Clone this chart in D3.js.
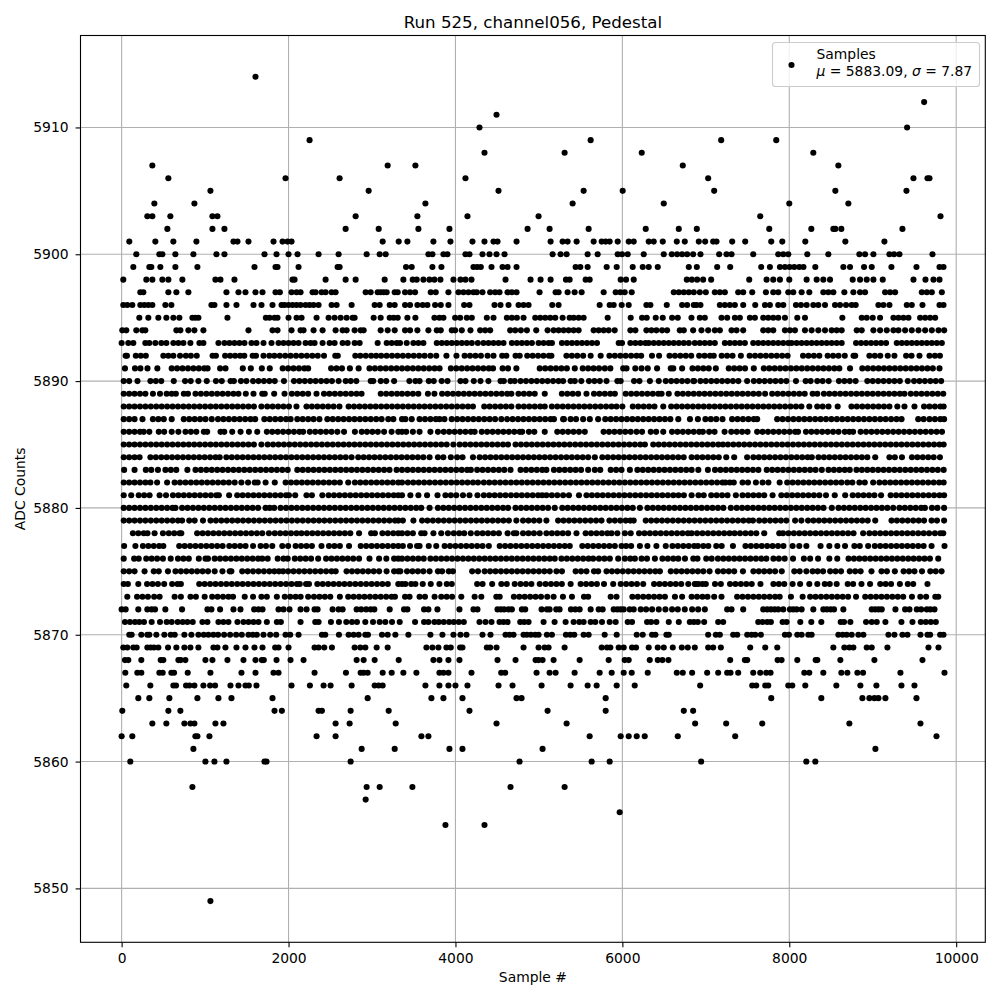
<!DOCTYPE html>
<html><head><meta charset="utf-8"><script src="https://cdn.jsdelivr.net/npm/d3@7"></script>
<style>html,body{margin:0;padding:0;background:#fff}svg{display:block}text{font-family:"DejaVu Sans",sans-serif;fill:#000}</style></head><body><div id="c"></div>
<script>
const titleText="Run 525, channel056, Pedestal", xLabel="Sample #", yLabel="ADC Counts";
const xTicks=[0,2000,4000,6000,8000,10000], yTicks=[5850,5860,5870,5880,5890,5900,5910];
const r5914=[1604],r5912=[9616],r5911=[4492],r5910=[4288,9412],r5909=[2252,5620,7184,7844],r5908=[4348,5308,6232,8288];
const r5907=[368,3188,3520,6724,8588],r5906=[560,1964,2612,4120,7028,9488,9656,9680],r5905=[1064,2960,4516,5536,6004,7100,8552,9404];
const r5904=[392,872,3640,5404,6496,8000,8708],r5903=[308,368,584,1088,1148,2804,3544,4144,4996,7652,9812];
const r5902=[548,1088,1232,2684,3080,3556,3928,4864,5128,5596,6280,6676,6892,7760,8264,8528,8552,8624,9356];
const r5901=[92,404,620,896,1340,1388,1520,1820,1928,1988,2036,3128,3320,3424,3736,3940,4204,4348,4456,4504,4732,5140,5284,5344,5452,5656,5752,5800,5848,5944,6076,6136,6316,6376,6484,6652,6748,6916,6992,7088,7128,7316,7472,7784,7916,8192,8672,9140];
const r5900=[176,452,488,644,860,1136,1232,1712,1856,2000,2108,2360,2600,2936,3092,3164,3676,3724,3856,3904,4120,4168,4324,4408,4492,4588,5164,5260,5332,5584,5704,5944,5996,6064,6256,6496,6592,6656,6716,6776,6848,6936,7160,7248,7308,7568,7868,7928,7988,8216,8468,8840,8908,9008,9200,9256,9320,9716];
const r5899=[140,332,356,464,644,908,1592,1844,1868,2120,2588,2612,3408,3476,3724,3832,4216,4260,4304,4432,4564,4624,4732,5440,5496,5584,5812,5932,6124,6244,6316,6424,6796,6892,7136,7292,7664,7768,7888,7948,8004,8060,8120,8170,8312,8648,8728,8896,8988,9224,9524,9800,9848];
const r5898=[20,296,368,488,560,728,1124,1184,1352,2048,2072,2444,2684,2804,3152,3376,3488,3536,3616,3688,3748,3820,3976,4060,4120,4192,4600,4900,5020,5140,5324,5368,5560,5608,5980,6044,6136,6772,6832,6896,6968,7064,7520,7728,7808,7888,8000,8208,8328,8408,8488,8760,8848,8928,9008,9120,9488,9632,9728,9800];
const r5897=[224,260,560,656,800,1256,1400,1484,1604,1688,1844,1896,2036,2096,2144,2288,2324,2396,2444,2516,2564,2924,2984,3068,3104,3140,3176,3272,3308,3396,3456,3516,3704,3764,3916,4036,4096,4156,4216,4256,4324,4416,4476,4528,4624,4676,4732,5008,5200,5236,5344,5428,5512,5776,5920,5976,6028,6112,6616,6676,6736,6796,6856,6928,7000,7108,7168,7228,7388,7448,7556,7720,7808,7868,7988,8048,8148,8240,8408,8468,8528,8660,8768,8848,8908,9148,9208,9268,9588,9648,9708,9828];
const r5896=[20,68,128,224,272,320,368,524,596,1076,1112,1256,1376,1580,1676,1808,1916,1952,2000,2048,2096,2144,2204,2252,2300,2360,2516,2576,2756,3032,3092,3212,3272,3396,3456,3544,3608,3664,3756,3824,3916,4104,4168,4468,4540,4636,4756,4816,4876,5160,5236,5728,5848,5896,5992,6076,6288,6336,6532,6716,6776,6856,6888,6936,7168,7228,7288,7348,7448,7592,7708,7768,7868,7928,8080,8140,8208,8288,8348,8428,8548,8608,8680,8748,8796,9068,9128,9200,9408,9468,9596,9800,9848];
const r5895=[212,320,440,536,620,692,848,884,920,1268,1728,1772,1832,1868,2000,2096,2156,2336,2480,2552,2624,2696,2768,2792,3020,3104,3212,3260,3308,3424,3520,3748,3808,3856,3996,4056,4136,4196,4376,4456,4616,4676,4736,4816,4956,5016,5076,5136,5196,5284,5368,5416,5476,5536,5824,6100,6236,6292,6400,6484,6596,6664,6828,6928,6988,7188,7256,7348,7408,7528,7588,7688,7748,7808,7868,7948,8096,8188,8636,8868,8928,9000,9088,9248,9308,9368,9428,9568,9628,9688,9748];
const r5894=[8,56,176,248,284,656,704,800,872,980,1520,1808,1868,2036,2144,2180,2300,2408,2564,2648,2696,2792,2864,2900,3104,3188,3272,3396,3456,3544,3676,3776,3824,3956,3996,4076,4180,4296,4356,4416,4656,4716,4784,4856,4968,5104,5176,5236,5296,5356,5416,5476,5656,5716,5776,5836,5908,6096,6156,6288,6348,6408,6476,6536,6688,6736,6848,6948,7028,7108,7168,7308,7368,7448,7688,7748,7808,7948,8008,8068,8188,8268,8348,8428,8508,8568,8628,8808,8868,9008,9088,9168,9248,9308,9388,9468,9548,9628,9708,9788,9856];
const r5893=[0,80,140,284,332,404,476,536,620,680,740,824,932,980,1160,1232,1292,1352,1412,1472,1556,1616,1700,1796,1880,1940,2000,2060,2120,2204,2264,2312,2408,2492,2552,2648,2708,2792,2852,3068,3176,3236,3296,3336,3416,3496,3556,3616,3776,3836,3896,3956,4016,4076,4136,4196,4268,4336,4396,4456,4516,4576,4676,4736,4796,4856,4916,4996,5056,5116,5156,5276,5336,5396,5456,5516,5576,5636,5696,5956,5996,6096,6156,6216,6276,6316,6376,6436,6496,6556,6616,6676,6736,6796,6868,6928,6988,7048,7108,7228,7288,7348,7408,7468,7568,7628,7688,7748,7808,7868,7928,7988,8028,8088,8148,8208,8268,8328,8388,8448,8508,8568,8628,8800,8860,8920,8980,9040,9100,9160,9288,9348,9408,9468,9528,9588,9648,9708,9768,9828];
const r5892=[48,64,170,230,290,500,560,620,700,770,830,900,1090,1130,1240,1300,1360,1420,1470,1570,1610,1700,1770,1830,1895,1960,2025,2090,2155,2220,2285,2350,2425,2560,2590,2800,2860,2925,2990,3050,3110,3175,3240,3305,3370,3435,3500,3565,3630,3700,3770,3892,4012,4110,4175,4240,4305,4385,4456,4560,4610,4720,4770,4860,4925,4990,5055,5120,5150,5330,5395,5460,5530,5620,5740,5845,5910,5975,6040,6105,6170,6225,6355,6440,6565,6630,6695,6760,6825,6920,6985,7050,7095,7190,7255,7320,7420,7525,7590,7655,7720,7785,7850,7915,7980,8165,8230,8295,8360,8460,8525,8590,8665,8770,8790,8960,9025,9090,9180,9260,9400,9465,9560,9680,9745,9805];
const r5891=[40,160,225,310,428,600,665,730,795,860,925,990,1030,1180,1245,1452,1548,1680,1775,1930,1995,2060,2125,2190,2235,2510,2575,2640,2735,2840,2970,3035,3100,3165,3230,3295,3360,3425,3490,3555,3620,3685,3750,3810,3945,4010,4075,4140,4205,4270,4335,4400,4450,4565,4630,4730,5010,5075,5140,5205,5270,5335,5430,5525,5590,5655,5720,5790,5856,6010,6050,6155,6230,6304,6416,6580,6610,6716,6840,6905,6970,7035,7120,7275,7340,7405,7470,7575,7695,7760,7825,7890,7955,8020,8085,8150,8215,8280,8345,8410,8475,8540,8600,8728,8875,8940,9005,9070,9135,9200,9265,9330,9395,9460,9525,9590,9655,9720,9800];
const r5890=[25,90,190,345,410,475,625,760,828,920,1020,1130,1200,1305,1345,1430,1495,1575,1640,1705,1770,1835,1945,2065,2130,2195,2260,2325,2390,2455,2520,2600,2685,2745,2812,2985,3015,3105,3170,3265,3448,3520,3570,3680,3740,3835,3905,4060,4120,4220,4300,4395,4540,4580,4660,4710,4780,4845,4910,4975,5040,5105,5170,5235,5290,5380,5430,5508,5600,5665,5730,5810,5940,5980,6140,6205,6330,6436,6520,6585,6650,6715,6780,6850,6860,6935,7000,7065,7130,7195,7260,7325,7390,7495,7575,7640,7705,7770,7835,7900,7965,8080,8196,8256,8335,8400,8472,8595,8660,8725,8795,8935,9000,9065,9130,9195,9260,9325,9420,9495,9560,9625,9690,9755,9820];
const r5889=[25,90,155,220,285,375,460,540,600,650,745,795,885,950,1015,1080,1145,1210,1275,1340,1400,1488,1580,1685,1715,1828,1952,2040,2105,2170,2235,2335,2425,2490,2555,2620,2685,2750,2815,2875,3105,3170,3235,3300,3360,3425,3490,3555,3670,3748,3840,3905,3970,4035,4100,4165,4230,4295,4360,4425,4490,4555,4620,4670,4755,4820,4885,4950,5070,5275,5340,5405,5470,5570,5660,5725,5790,5855,5910,6040,6105,6170,6235,6300,6365,6430,6470,6556,6660,6725,6790,6855,6920,6985,7050,7115,7180,7245,7310,7375,7440,7505,7570,7635,7710,7795,7860,7925,7990,8055,8120,8185,8280,8336,8415,8480,8545,8610,8675,8740,8805,8870,8935,9000,9065,9130,9195,9260,9325,9380,9455,9520,9585,9650,9715,9780,9845];
const r5888=[25,90,155,220,285,350,415,480,545,610,675,740,805,870,935,1000,1065,1130,1195,1260,1325,1390,1455,1520,1585,1675,1745,1810,1875,1940,2005,2095,2215,2280,2345,2410,2475,2540,2610,2720,2785,2850,2915,2980,3045,3110,3175,3240,3305,3370,3435,3500,3565,3630,3695,3760,3825,3890,3955,4020,4085,4150,4210,4345,4410,4475,4540,4605,4670,4755,4820,4885,4950,5015,5070,5155,5220,5285,5350,5415,5480,5545,5610,5675,5740,5805,5870,5930,6000,6125,6190,6255,6320,6385,6490,6585,6650,6715,6780,6845,6910,6975,7040,7105,7170,7235,7300,7365,7430,7495,7560,7625,7690,7755,7820,7885,7950,8015,8080,8145,8240,8335,8400,8470,8580,8745,8810,8875,8940,9005,9070,9135,9200,9295,9380,9500,9615,9680,9745,9810,9850];
const r5887=[25,90,155,250,375,440,505,600,745,810,875,940,1005,1080,1155,1220,1285,1350,1415,1480,1545,1600,1710,1775,1840,1905,1970,2025,2105,2170,2235,2300,2370,2465,2530,2595,2660,2725,2790,2855,2920,2985,3050,3115,3195,3256,3360,3400,3476,3570,3635,3700,3765,3810,3868,3955,4020,4085,4150,4215,4280,4345,4410,4475,4550,4620,4685,4750,4815,4880,4945,5010,5075,5140,5180,5290,5300,5380,5445,5530,5610,5710,5795,5860,5925,5990,6055,6120,6185,6250,6315,6380,6445,6510,6575,6670,6810,6905,6995,7060,7125,7200,7315,7380,7445,7510,7575,7615,7855,7920,7985,8050,8115,8180,8245,8310,8375,8440,8505,8570,8635,8700,8765,8830,8895,8960,9025,9090,9155,9220,9285,9345,9545,9610,9680,9745,9810,9855];
const r5886=[25,90,155,220,265,332,445,510,600,680,765,830,895,985,1025,1185,1230,1325,1425,1525,1625,1740,1805,1870,1935,2000,2065,2130,2175,2255,2320,2385,2450,2515,2585,2665,2795,2877,2940,3005,3070,3145,3235,3315,3360,3410,3490,3570,3700,3790,3860,3925,3990,4055,4120,4185,4230,4315,4380,4445,4510,4575,4640,4705,4770,4800,4880,4945,5070,5220,5285,5350,5415,5480,5550,5775,5840,5905,5970,6035,6100,6170,6236,6340,6405,6490,6595,6660,6725,6790,6855,6920,6965,7040,7105,7225,7305,7370,7435,7500,7615,7680,7745,7810,7875,7940,8005,8070,8105,8200,8265,8330,8395,8460,8525,8590,8665,8720,8765,8855,8920,8985,9050,9115,9180,9245,9310,9375,9440,9505,9570,9635,9700,9765,9830];
const r5885=[25,90,155,220,285,350,415,480,545,610,675,740,805,870,935,1000,1065,1130,1195,1260,1325,1390,1455,1520,1585,1675,1750,1815,1880,1945,2010,2075,2140,2205,2270,2335,2400,2465,2530,2595,2660,2725,2790,2855,2920,2985,3050,3115,3180,3245,3310,3375,3440,3505,3570,3635,3700,3765,3830,3895,3975,4050,4115,4180,4245,4310,4375,4440,4505,4570,4630,4720,4785,4850,4915,4980,5045,5110,5175,5240,5305,5370,5435,5500,5565,5630,5695,5760,5825,5890,5955,6020,6085,6150,6215,6270,6370,6435,6500,6565,6630,6695,6760,6825,6890,6955,7020,7085,7150,7205,7265,7330,7395,7460,7525,7590,7655,7720,7785,7850,7915,7980,8045,8110,8175,8240,8305,8370,8435,8500,8565,8630,8695,8760,8825,8890,8955,9020,9085,9150,9215,9280,9345,9410,9475,9540,9605,9670,9735,9800,9850];
const r5884=[25,90,155,215,345,410,475,540,605,670,735,800,865,930,995,1060,1125,1175,1255,1320,1385,1450,1515,1580,1645,1710,1775,1840,1905,1970,2035,2100,2165,2230,2295,2360,2425,2490,2555,2620,2685,2755,2835,2900,2965,3030,3095,3160,3225,3290,3355,3420,3485,3550,3615,3690,3790,3855,3945,4020,4085,4210,4290,4355,4420,4485,4550,4615,4680,4745,4810,4875,4940,5005,5070,5135,5200,5265,5330,5395,5460,5525,5590,5670,5760,5825,5890,5955,6020,6085,6150,6215,6280,6345,6410,6475,6540,6605,6670,6735,6830,6895,6960,7025,7090,7155,7245,7340,7495,7570,7635,7700,7765,7830,7895,7960,8025,8090,8155,8220,8270,8350,8415,8480,8545,8610,8675,8740,8805,8870,8935,9030,9200,9265,9350,9470,9535,9600,9665,9730,9805];
const r5883=[30,155,290,355,435,525,590,655,788,885,950,1015,1080,1145,1210,1275,1340,1405,1470,1535,1600,1665,1730,1795,1860,1925,1990,2105,2170,2235,2300,2365,2430,2495,2560,2625,2690,2755,2820,2885,2950,3015,3080,3145,3210,3295,3360,3425,3490,3555,3620,3685,3750,3815,3880,3945,4010,4075,4140,4185,4260,4325,4390,4455,4520,4585,4660,4780,4845,4910,4975,5040,5090,5180,5245,5310,5375,5440,5505,5590,5670,5735,5860,5925,5990,6090,6180,6245,6310,6375,6440,6505,6570,6635,6700,6765,6830,6910,7025,7110,7175,7240,7305,7370,7435,7500,7565,7630,7730,7795,7860,7925,7990,8055,8120,8185,8250,8315,8390,8470,8535,8600,8665,8725,8805,8870,8935,9000,9065,9130,9195,9260,9325,9390,9455,9520,9585,9650,9715,9780,9850];
const r5882=[25,90,155,220,285,345,425,545,635,700,765,830,895,960,1025,1090,1155,1220,1285,1355,1435,1515,1595,1630,1725,1835,1965,2030,2095,2160,2225,2290,2355,2420,2485,2550,2615,2715,2795,2860,2925,2990,3055,3120,3185,3250,3315,3360,3430,3495,3560,3625,3690,3755,3820,3885,3950,4015,4080,4145,4210,4270,4340,4405,4470,4535,4600,4665,4730,4795,4860,4925,4990,5055,5120,5185,5250,5315,5380,5445,5510,5575,5640,5705,5770,5835,5900,5965,6030,6095,6160,6225,6290,6355,6420,6485,6550,6615,6680,6745,6810,6875,6940,7005,7070,7135,7200,7234,7288,7335,7440,7505,7600,7680,7750,7885,7975,8040,8105,8170,8235,8300,8365,8430,8495,8560,8625,8695,8756,8840,8905,9005,9080,9145,9210,9275,9340,9405,9470,9535,9600,9665,9730,9795,9850];
const r5881=[25,115,205,270,335,455,532,615,680,745,810,875,940,1005,1070,1135,1165,1288,1385,1450,1515,1580,1645,1710,1775,1840,1905,1970,2005,2080,2215,2280,2405,2480,2545,2610,2675,2740,2805,2870,2935,3000,3065,3130,3195,3260,3315,3360,3460,3556,3660,3785,3880,3945,4010,4090,4168,4264,4340,4405,4470,4535,4600,4665,4730,4795,4860,4925,4990,5040,5090,5155,5220,5290,5360,5480,5570,5635,5700,5765,5830,5895,5960,6025,6090,6155,6220,6285,6350,6415,6480,6545,6610,6672,6737,6830,6912,6975,7065,7130,7195,7260,7360,7440,7505,7570,7635,7700,7800,7905,7970,8035,8100,8165,8230,8295,8360,8440,8545,8670,8760,8825,8890,8955,9020,9100,9215,9280,9345,9410,9475,9540,9605,9670,9735,9800,9855];
const r5880=[25,90,155,220,285,350,415,480,545,610,645,725,790,855,920,985,1050,1115,1180,1245,1310,1375,1440,1505,1570,1635,1725,1775,1828,1905,1970,2035,2100,2165,2230,2295,2360,2425,2490,2555,2620,2685,2750,2815,2880,2945,3010,3075,3140,3205,3270,3335,3400,3465,3530,3590,3690,3790,3855,3920,3985,4050,4115,4180,4245,4310,4375,4440,4505,4570,4630,4720,4785,4850,4915,4980,5045,5110,5190,5280,5345,5410,5475,5540,5605,5670,5735,5800,5865,5930,5995,6060,6125,6210,6300,6365,6430,6495,6560,6625,6690,6755,6820,6885,6950,7015,7080,7145,7210,7300,7370,7435,7500,7565,7630,7695,7760,7825,7890,7955,8020,8085,8150,8215,8280,8345,8410,8510,8590,8655,8720,8785,8850,8915,8980,9045,9110,9175,9245,9320,9385,9450,9515,9580,9625,9710,9775,9855];
const r5879=[25,90,155,220,285,350,415,480,545,610,675,725,810,875,975,1065,1130,1195,1260,1325,1390,1455,1520,1585,1650,1715,1780,1845,1910,1975,2040,2105,2170,2235,2300,2365,2430,2495,2560,2625,2690,2755,2820,2885,2950,3015,3080,3145,3210,3275,3315,3370,3496,3600,3665,3730,3795,3860,3925,3990,4055,4120,4185,4250,4315,4380,4445,4510,4575,4640,4730,4810,4875,4940,5005,5090,5230,5295,5360,5425,5490,5555,5620,5685,5750,5845,5910,5975,6040,6095,6136,6280,6345,6410,6475,6540,6605,6670,6735,6800,6865,6930,6995,7060,7125,7190,7255,7320,7385,7450,7515,7565,7640,7705,7770,7835,7900,7965,8070,8145,8225,8290,8355,8420,8485,8550,8615,8680,8745,8810,8875,8940,9030,9225,9290,9355,9420,9485,9550,9615,9705,9770,9855];
const r5878=[135,200,265,310,395,495,565,630,695,715,905,970,1035,1100,1165,1230,1295,1360,1425,1490,1555,1620,1685,1765,1835,1900,1965,2030,2095,2155,2220,2285,2350,2415,2480,2545,2610,2675,2740,2845,2990,3035,3125,3190,3255,3315,3360,3425,3490,3590,3630,3736,3830,3910,3980,4045,4105,4184,4260,4325,4390,4455,4520,4625,4700,4730,4810,4875,4940,5010,5090,5155,5220,5285,5350,5450,5560,5625,5690,5755,5820,5870,5940,6030,6100,6200,6265,6330,6395,6460,6525,6590,6655,6720,6785,6830,6895,6960,7025,7090,7155,7220,7285,7345,7410,7475,7540,7605,7700,7880,7925,7990,8055,8120,8185,8250,8315,8380,8445,8510,8575,8640,8705,8770,8885,8960,9025,9090,9155,9220,9285,9350,9415,9480,9545,9610,9675,9745,9810,9845];
const r5877=[30,165,255,320,385,450,500,690,755,820,885,950,1015,1080,1145,1210,1290,1355,1420,1485,1575,1665,1730,1805,1925,1995,2085,2150,2215,2280,2395,2485,2550,2615,2725,2865,2930,2995,3060,3125,3190,3255,3315,3370,3456,3540,3570,3680,3770,3870,3935,4000,4065,4130,4195,4260,4325,4400,4530,4595,4660,4725,4790,4855,4920,4985,5050,5115,5180,5245,5310,5370,5520,5585,5650,5715,5780,5845,5910,5990,6045,6105,6210,6300,6408,6520,6600,6665,6730,6795,6860,6905,6970,7030,7125,7190,7325,7475,7540,7605,7670,7735,7800,7865,7930,8040,8120,8205,8375,8480,8576,8668,8780,8845,8945,9025,9090,9155,9220,9285,9350,9415,9480,9545,9610,9705,9860];
const r5876=[25,150,205,295,360,425,495,588,675,740,805,925,1005,1035,1115,1180,1245,1310,1375,1440,1505,1570,1635,1685,1750,1870,1940,1990,2075,2140,2205,2270,2355,2450,2515,2580,2645,2710,2775,2845,2970,3085,3172,3265,3315,3360,3425,3490,3555,3620,3700,3765,3830,3895,3960,4025,4090,4155,4220,4285,4350,4415,4480,4545,4610,4675,4740,4805,4870,4935,5000,5065,5130,5190,5270,5335,5400,5465,5530,5595,5650,5720,5785,5850,5950,6030,6095,6150,6230,6295,6390,6480,6545,6610,6670,6750,6850,6900,7005,7070,7145,7210,7275,7340,7405,7470,7535,7600,7665,7725,7810,7875,7945,8045,8175,8250,8345,8480,8575,8710,8775,8840,8905,8970,9035,9100,9165,9230,9295,9360,9425,9490,9555,9620,9685,9785];
const r5875=[25,90,155,275,385,445,555,645,710,775,840,905,970,1035,1115,1208,1295,1315,1445,1510,1575,1640,1705,1770,1830,1885,1935,1995,2060,2125,2190,2255,2320,2385,2450,2515,2565,2695,2760,2825,2890,2955,3020,3085,3175,3265,3315,3340,3420,3485,3550,3615,3690,3790,3840,3920,3970,4200,4270,4350,4415,4480,4545,4610,4675,4740,4805,4870,4935,5000,5065,5130,5210,5276,5440,5505,5570,5660,5710,5810,5875,5940,6005,6070,6135,6200,6265,6330,6395,6450,6580,6645,6710,6775,6840,6905,6970,7045,7145,7210,7275,7340,7445,7570,7635,7700,7765,7830,7910,8060,8125,8205,8280,8340,8405,8490,8555,8620,8725,8790,8855,8985,9105,9170,9265,9370,9435,9500,9590,9690,9755,9825];
const r5874=[25,75,200,305,370,435,510,605,670,710,930,995,1060,1125,1190,1255,1320,1385,1450,1515,1580,1645,1710,1775,1840,1905,1970,2035,2100,2135,2210,2245,2345,2410,2475,2540,2605,2670,2735,2800,2865,2930,2995,3060,3125,3190,3315,3360,3400,3470,3520,3608,3704,3808,3896,3956,4260,4325,4440,4550,4615,4710,4780,4845,4910,5010,5080,5145,5210,5275,5380,5500,5565,5630,5695,5780,5890,5980,6045,6110,6175,6250,6380,6445,6510,6575,6640,6705,6790,6880,6912,6868,6960,7000,7110,7180,7290,7355,7420,7485,7550,7655,7810,7875,7940,8040,8130,8240,8336,8425,8485,8568,8700,8765,8865,8968,9090,9155,9220,9325,9420,9485,9656];
const r5873=[68,185,250,315,390,455,635,710,825,890,995,1085,1150,1215,1280,1335,1475,1575,1675,1740,1860,1955,2020,2085,2145,2235,2305,2370,2435,2500,2615,2715,2780,2845,2910,2975,3040,3105,3170,3235,3275,3396,3450,3570,3635,3750,3830,3895,3960,4070,4230,4310,4490,4530,4700,4765,4830,4895,4960,5025,5100,5176,5288,5396,5540,5590,5860,5930,6120,6185,6250,6315,6380,6445,6510,6630,6716,6830,6895,6960,7020,7100,7188,7375,7440,7505,7570,7635,7700,7765,7830,7885,8020,8160,8250,8315,8380,8445,8510,8575,8640,8705,8800,8910,8975,9040,9105,9170,9235,9300,9365,9470,9570,9640,9750,9785];
const r5872=[0,48,200,308,360,400,524,724,1028,1076,1180,1340,1424,1588,1640,1688,1880,1940,2012,2144,2216,2312,2348,2528,2600,2648,2816,2870,2930,2985,3028,3212,3384,3424,3624,3676,3784,4048,4216,4264,4504,4545,4584,4636,4676,4796,4836,5032,5096,5128,5208,5248,5384,5436,5488,5620,5716,5764,5896,5940,5980,6016,6088,6136,6220,6284,6356,6436,6516,6596,6664,6748,6836,6908,6988,7256,7308,7448,7688,7735,7780,7825,7868,7928,8008,8048,8088,8148,8288,8408,8450,8495,8536,8648,8988,9030,9070,9108,9272,9388,9440,9528,9580,9648,9690,9740];
const r5871=[40,100,160,212,268,360,460,540,600,672,732,788,852,968,1028,1160,1220,1280,1388,1460,1520,1580,1640,1740,1860,1908,2144,2320,2360,2508,2604,2692,2760,2820,2920,3012,3092,3160,3240,3332,3516,3624,3676,3748,3800,3860,3924,3980,4040,4100,4288,4360,4432,4528,4576,4624,4776,4824,4876,5056,5188,5320,5416,5484,5536,5620,5676,5756,5848,5920,6064,6116,6296,6344,6408,6556,6676,6808,6856,6904,6980,7148,7208,7628,7680,7736,7780,7920,7968,8132,8264,8384,8616,8656,8732,8920,8988,9048,9152,9344,9476,9576,9636,9696,9756];
const r5870=[92,120,236,308,332,416,512,588,636,752,836,920,984,1040,1100,1156,1228,1300,1372,1440,1520,1572,1620,1700,1780,1852,1964,2020,2120,2400,2440,2604,2720,2780,2840,2920,2952,3120,3188,3280,3436,3700,3844,3976,4060,4132,4324,4420,4600,4648,4696,4816,4856,4904,4956,4996,5096,5156,5324,5376,5424,5536,5596,5788,5932,6172,6244,6356,6396,6528,6556,7028,7120,7168,7328,7376,7496,7548,7592,7660,7948,7996,8096,8148,8228,8268,8588,8640,8688,8748,8828,8888,9188,9260,9356,9416,9572,9656,9688,9808,9848];
const r5869=[20,68,140,180,308,348,388,440,556,656,752,824,920,1100,1148,1244,1376,1484,1592,1688,1840,1880,2000,2312,2360,2428,2520,2792,2860,2920,3056,3188,3652,3724,3796,3892,3944,4056,4084,4376,4416,4492,4816,4996,5068,5116,5308,5752,5816,5856,5956,6016,6116,6164,6316,6424,6496,6604,6712,6784,6868,7028,7088,7180,7532,7712,7856,8528,8660,8720,8768,8928,8988,9176,9668,9788];
const r5868=[40,80,236,468,500,680,708,764,1004,1088,1268,1460,1604,1680,1704,1856,2024,2180,2816,2900,3032,3320,3736,3808,3916,4048,4504,4720,4960,4996,5044,5176,5488,5836,6028,6076,6328,6424,6480,6552,7292,7468,7496,7860,7908,8096,8316,8336,8612,9020,9596];
const r5867=[44,188,236,452,492,596,628,792,1064,1436,1604,1820,1880,2312,2688,2864,2900,2948,3128,3236,3376,3532,3808,3856,3916,4192,4548,4596,4972,5128,5200,5428,5728,5872,6016,6112,6304,6652,6724,6836,7016,7148,7256,7296,7388,7568,7652,7724,7776,8180,8240,8408,8624,8696,8816,8884,9332,9860];
const r5866=[56,344,620,652,772,812,872,980,1060,1120,1304,1400,1484,1524,1616,2036,2256,2420,2504,2756,3032,3080,3128,3640,3808,3916,4000,4144,4516,4684,5032,5380,5584,5692,5932,6148,6932,7556,7604,7712,7748,7988,8036,8192,8564,8852,9044,9344,9500];
const r5865=[200,332,572,908,1160,1316,1808,2948,3712,3856,4084,4732,4792,5800,7784,8384,8876,8960,9020,9068,9152,9524];
const r5864=[8,560,704,1832,1920,2360,2400,2744,3200,4168,5104,5800,6736,6848];
const r5863=[368,536,752,824,872,1124,1220,2564,2732,3284,4492,5332,6872,7244,7676,8720,9572];
const r5862=[0,128,884,908,1052,2336,2564,3592,3676,5608,5980,6076,6172,6268,6664,7352,9764];
const r5861=[860,2876,3272,3928,4084,5044,9032],r5860=[104,1004,1112,1256,1712,1736,2744,4768,5632,5848,6944,8204,8312];
const r5858=[848,2936,3092,3484,4660,5308],r5857=[2924],r5856=[5968],r5855=[3880,4348],r5849=[1064];
const adcLevels=[5914,5912,5911,5910,5909,5908,5907,5906,5905,5904,5903,5902,5901,5900,5899,5898,5897,5896,5895,5894,5893,5892,5891,5890,5889,5888,5887,5886,5885,5884,5883,5882,5881,5880,5879,5878,5877,5876,5875,5874,5873,5872,5871,5870,5869,5868,5867,5866,5865,5864,5863,5862,5861,5860,5858,5857,5856,5855,5849];
const sampleRows=[r5914,r5912,r5911,r5910,r5909,r5908,r5907,r5906,r5905,r5904,r5903,r5902,r5901,r5900,r5899,r5898,r5897,r5896,r5895,r5894,r5893,r5892,r5891,r5890,r5889,r5888,r5887,r5886,r5885,r5884,r5883,r5882,r5881,r5880,r5879,r5878,r5877,r5876,r5875,r5874,r5873,r5872,r5871,r5870,r5869,r5868,r5867,r5866,r5865,r5864,r5863,r5862,r5861,r5860,r5858,r5857,r5856,r5855,r5849];
const points=adcLevels.flatMap((lvl,i)=>sampleRows[i].map(s=>({s,lvl})));

const L=80.5,R=985.3,T=35.5,B=942.3;
const svg=d3.select("#c").append("svg").attr("width",1000).attr("height",1000);
const x=d3.scaleLinear().domain([-492.8,10348.8]).range([L,R]);
const y=d3.scaleLinear().domain([5845.75,5917.25]).range([B,T]);
const grid=svg.append("g");
grid.selectAll(".gx").data(xTicks).join("line").attr("x1",d=>x(d)).attr("x2",d=>x(d)).attr("y1",T).attr("y2",B).attr("stroke","#b0b0b0").attr("stroke-width",1.1);
grid.selectAll(".gy").data(yTicks).join("line").attr("x1",L).attr("x2",R).attr("y1",d=>y(d)).attr("y2",d=>y(d)).attr("stroke","#b0b0b0").attr("stroke-width",1.1);
svg.append("g").selectAll("circle").data(points).join("circle").attr("cx",d=>x(d.s)).attr("cy",d=>y(d.lvl)).attr("r",3.05).attr("fill","#000");
const xAxis=d3.axisBottom(x).tickValues(xTicks).tickFormat(d3.format("d")).tickSize(4.9).tickPadding(6);
const yAxis=d3.axisLeft(y).tickValues(yTicks).tickFormat(d3.format("d")).tickSize(4.9).tickPadding(7);
const gx=svg.append("g").attr("transform",`translate(0,${B})`).call(xAxis);
const gy=svg.append("g").attr("transform",`translate(${L},0)`).call(yAxis);
[gx,gy].forEach(g=>{g.select(".domain").remove();g.selectAll("line").attr("stroke","#000").attr("stroke-width",1.1);g.selectAll("text").attr("font-size",13.89).attr("font-family","DejaVu Sans").attr("fill","#000");});
svg.append("rect").attr("x",L).attr("y",T).attr("width",R-L).attr("height",B-T).attr("fill","none").attr("stroke","#000").attr("stroke-width",1.1);
svg.append("text").attr("x",(L+R)/2).attr("y",27.5).attr("text-anchor","middle").attr("font-size",16.67).text(titleText);
svg.append("text").attr("x",(L+R)/2).attr("y",982).attr("text-anchor","middle").attr("font-size",13.89).text(xLabel);
svg.append("text").attr("transform",`translate(24.5,${(T+B)/2}) rotate(-90)`).attr("text-anchor","middle").attr("font-size",13.89).text(yLabel);
const lg=svg.append("g");
lg.append("rect").attr("x",772.5).attr("y",42.5).attr("width",207).attr("height",44).attr("rx",3).attr("fill","#fff").attr("fill-opacity",.8).attr("stroke","#ccc").attr("stroke-width",1.1);
lg.append("circle").attr("cx",791.5).attr("cy",65).attr("r",3.05).attr("fill","#000");
lg.append("text").attr("x",816.5).attr("y",59).attr("font-size",13.89).text("Samples");
const t2=lg.append("text").attr("x",816.5).attr("y",76).attr("font-size",13.89);
t2.append("tspan").attr("font-style","italic").text("μ");
t2.append("tspan").text(" = 5883.09, ");
t2.append("tspan").attr("font-style","italic").text("σ");
t2.append("tspan").text(" = 7.87");
</script></body></html>
